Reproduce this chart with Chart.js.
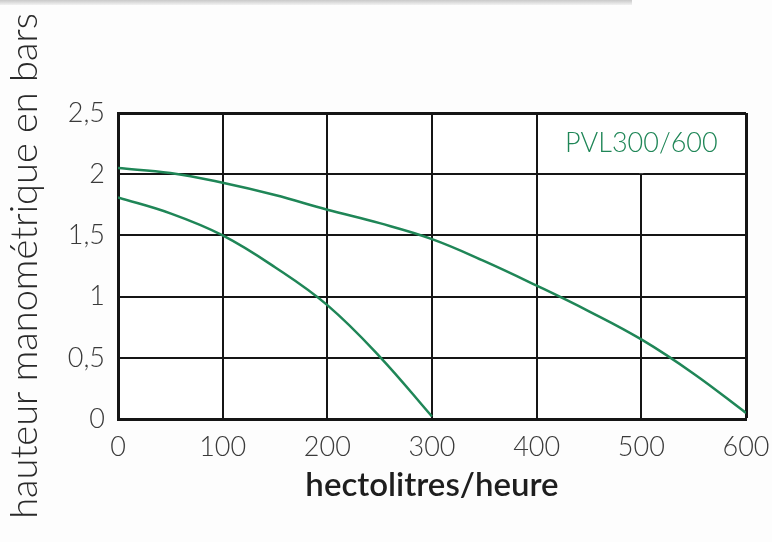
<!DOCTYPE html>
<html>
<head>
<meta charset="utf-8">
<script src="https://cdn.jsdelivr.net/npm/chart.js@4/dist/chart.umd.min.js"></script>
<style>
  html, body { margin: 0; padding: 0; background: #fdfdfd; }
  #wrap { position: relative; width: 772px; height: 542px; }
  #topbar { position: absolute; left: 0; top: 0; width: 632px; height: 5px;
            background: linear-gradient(#c9c9c9, #f2f2f2); }
  canvas { position: absolute; left: 0; top: 0; }
</style>
</head>
<body>
<div id="wrap">
  <div id="topbar"></div>
  <canvas id="c" width="772" height="542"></canvas>
</div>
<script>
// Débit (hectolitres/heure)
const flowsLow = [0, 50, 100, 150, 200, 250, 300];
// Hauteur manométrique (bars) – courbe PVL300
const headLow = [1.81, 1.68, 1.50, 1.24, 0.93, 0.51, 0.02];

const flowsHigh = [0, 50, 100, 150, 200, 250, 300, 350, 400, 450, 500, 550, 600];
// Hauteur manométrique (bars) – courbe PVL600
const headHigh = [2.05, 2.01, 1.93, 1.83, 1.71, 1.60, 1.47, 1.29, 1.09, 0.88, 0.65, 0.37, 0.05];

const xTicks = [0, 100, 200, 300, 400, 500, 600];
const yTicks = [0, 0.5, 1, 1.5, 2, 2.5];
const labelText = 'PVL300/600';
const labelPos = { x: 500, y: 2.25 };
const xTitle = 'hectolitres/heure';
const yTitle = 'hauteur manométrique en bars';

const GREEN = '#1f8657';
const FONT = 'Lato, "Open Sans", sans-serif';

const toPts = (xs, ys) => xs.map((x, i) => ({ x: x, y: ys[i] }));

const decor = {
  id: 'decor',
  beforeDraw(chart) {
    const ctx = chart.ctx;
    ctx.save();
    ctx.fillStyle = '#ffffff';
    const a = chart.chartArea;
    ctx.fillRect(a.left, a.top, a.right - a.left, a.bottom - a.top);
    ctx.restore();
  },
  beforeDatasetsDraw(chart) {
    const ctx = chart.ctx;
    const xs = chart.scales.x, ys = chart.scales.y;
    // label cell: the 500 gridline stops at 2
    const px = xs.getPixelForValue(500);
    const yTop = ys.getPixelForValue(2.5);
    const yBot = ys.getPixelForValue(2);
    ctx.save();
    ctx.fillStyle = '#ffffff';
    ctx.fillRect(px - 2, yTop + 2, 4, yBot - yTop - 3);
    ctx.fillStyle = GREEN;
    ctx.font = '300 27px ' + FONT;
    ctx.textAlign = 'center';
    ctx.textBaseline = 'middle';
    ctx.fillText(labelText, xs.getPixelForValue(labelPos.x), ys.getPixelForValue(labelPos.y));
    ctx.restore();
  }
};

new Chart(document.getElementById('c'), {
  type: 'scatter',
  data: {
    datasets: [
      { data: toPts(flowsLow, headLow), showLine: true, borderColor: GREEN, borderWidth: 2.5,
        pointRadius: 0, tension: 0.4 },
      { data: toPts(flowsHigh, headHigh), showLine: true, borderColor: GREEN, borderWidth: 2.5,
        pointRadius: 0, tension: 0.4 }
    ]
  },
  options: {
    responsive: false,
    animation: false,
    events: [],
    layout: { padding: { top: 113, right: 26, bottom: 0, left: 0 } },
    plugins: { legend: { display: false }, tooltip: { enabled: false } },
    scales: {
      x: {
        type: 'linear', min: 0, max: 600,
        afterBuildTicks: s => { s.ticks = xTicks.map(v => ({ value: v })); },
        afterFit: s => { s.height = 123; s.paddingRight = 0; s.paddingLeft = 0; },
        grid: { color: '#151515', lineWidth: c => (c.tick && c.tick.value === 600 ? 3 : 2), drawTicks: false },
        border: { color: '#151515', width: 3 },
        ticks: { color: '#3a3a3a', font: { family: FONT, size: 27, weight: '300' }, padding: 12,
                 maxRotation: 0, autoSkip: false },
        title: { display: true, text: xTitle, color: '#1e1e1e',
                 font: { family: FONT, size: 33, weight: '600' }, padding: { top: 0, bottom: 37 } }
      },
      y: {
        type: 'linear', min: 0, max: 2.5,
        afterBuildTicks: s => { s.ticks = yTicks.map(v => ({ value: v })); },
        afterFit: s => { s.width = 118; },
        grid: { color: '#151515', lineWidth: c => (c.tick && c.tick.value === 2.5 ? 3 : 2), drawTicks: false },
        border: { color: '#151515', width: 3 },
        ticks: { color: '#3a3a3a', font: { family: FONT, size: 27, weight: '300' }, padding: 13,
                 callback: v => String(v).replace('.', ',') },
        title: { display: true, text: yTitle, color: '#2a2a2a',
                 font: { family: FONT, size: 38, weight: '300' }, padding: { top: 2, bottom: 0 } }
      }
    }
  },
  plugins: [decor]
});
</script>
</body>
</html>
